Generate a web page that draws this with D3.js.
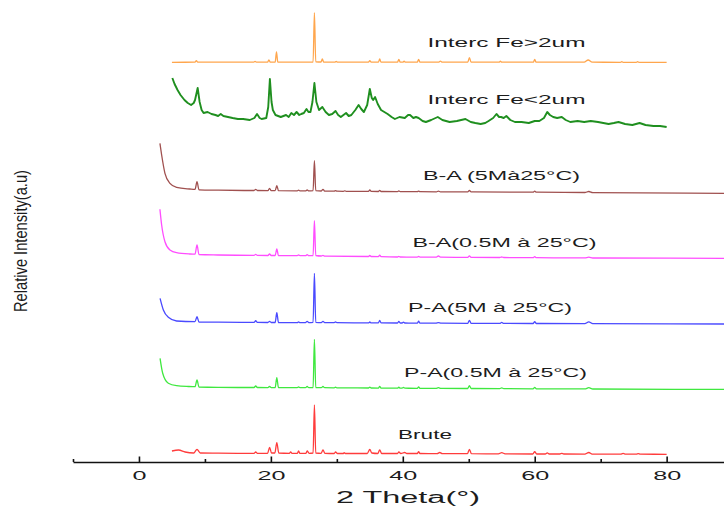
<html>
<head>
<script src="https://d3js.org/d3.v7.min.js"></script>
<style>
  body { margin: 0; background: #fff; }
  text { font-family: "Liberation Sans", Arial, sans-serif; fill: #1c1c1c; }
</style>
</head>
<body>
<script>
// XRD patterns, [2theta, intensity a.u.] (stacked, offsets included)
var brute = [[5.0,11],[6.0,12],[7.0,10],[8.3,9],[8.8,12.7],[9.3,9],[12,8.8],[17.45,8.7],[17.7,10],[17.95,8.7],[19.5,8.7],[19.8,14.7],[20.1,9],[20.6,9],[20.9,19.3],[21.2,9],
  [22.8,8.7],[23.0,10],[23.2,8.7],[24.0,8.7],[24.2,11],[24.4,8.7],[25.3,8.7],[25.5,11],[25.8,8.7],[26.4,9],[26.6,57],[26.8,9],[27.6,8.7],[27.9,12],[28.2,8.7],
  [29.6,8.5],[29.8,10],[30.1,8.5],[31,8.5],[31.1,9.3],[31.3,8.5],[34.6,8.5],[35.0,12.5],[35.3,9],[36.2,8.5],[36.5,12],[36.8,8.5],[39.2,8.5],[39.4,10],[39.7,8.5],
  [40.3,9.5],[40.6,8.5],[42.2,8.5],[42.4,10.3],[42.6,8.5],[45.2,8.3],[45.6,9.5],[46.0,8.3],[49.8,8.3],[50.1,12.7],[50.4,8.3],[54.5,8.2],[55.0,9.3],[55.5,8.2],
  [59.7,8],[60.0,10.3],[60.3,8],[61.6,8],[61.9,9.2],[62.2,8],[63.8,8],[64.1,8.7],[64.4,8],[67.6,7.9],[68.2,9.5],[68.7,7.9],[73.0,7.8],[73.4,8.6],[73.8,7.8],
  [75.4,7.8],[75.7,8.4],[76,7.8],[80,7.7]];

var pa05 = [[3.2,103.7],[3.6,88.7],[4.45,78.7],[5.7,76.3],[7.5,75.5],[8.5,75.3],[8.8,82],[9.1,75],[12,74.6],[17.45,74.5],[17.7,76],[17.95,74.5],[19.55,74.4],[19.8,75.5],
  [20.05,74.4],[20.65,74.4],[20.9,84.3],[21.15,74.3],[24.0,74.3],[24.2,75],[24.4,74.3],[25.25,74.3],[25.5,75.5],[25.75,74.3],[26.4,74.5],[26.6,122.7],[26.8,74.5],
  [27.65,74.3],[27.9,75.5],[28.15,74.3],[29.6,74.2],[29.8,74.9],[30,74.2],[34.8,74],[35.0,74.8],[35.2,74],[36.3,73.9],[36.5,75.7],[36.7,73.9],[39.2,73.8],[39.4,74.8],
  [39.6,73.8],[39.9,73.8],[40.1,74.5],[40.3,73.8],[42.2,73.7],[42.4,75.2],[42.6,73.7],[45.0,73.6],[45.4,74.3],[45.8,73.6],[49.85,73.5],[50.1,76.3],[50.35,73.5],
  [54.7,73.4],[55.0,74.2],[55.3,73.4],[59.75,73.2],[60.0,74.7],[60.25,73.2],[67.6,73.1],[68.2,74.3],[68.8,73.0],[90,72.6]];

var pa5 = [[3.2,163.7],[3.7,152],[4.45,144.7],[5.7,141],[8.5,140.3],[8.8,145.3],[9.1,140],[12,139.8],[17.45,139.6],[17.7,141.3],[17.95,139.6],[19.55,139.5],[19.8,140.7],
  [20.05,139.5],[20.65,139.5],[20.9,149.3],[21.15,139.5],[24,139.4],[24.2,140.2],[24.4,139.4],[25.25,139.4],[25.5,140.7],[25.75,139.4],[26.4,139.6],[26.6,188.7],
  [26.8,139.6],[27.65,139.4],[27.9,140.7],[28.15,139.4],[29.6,139.3],[29.8,140],[30,139.3],[34.8,139.2],[35.0,140],[35.2,139.2],[36.3,139.1],[36.5,141.7],[36.7,139.1],
  [39.2,139],[39.4,140.5],[39.6,139],[39.9,139],[40.1,139.9],[40.3,139],[42.2,138.9],[42.4,140.8],[42.6,138.9],[45.0,138.8],[45.4,139.4],[45.8,138.8],[49.85,138.7],
  [50.1,141.7],[50.35,138.7],[54.7,138.6],[55,139.6],[55.3,138.6],[59.75,138.5],[60,140.3],[60.25,138.5],[67.6,138.4],[68.2,140.2],[68.8,138.3],[90,138]];

var ba05 = [[3.18,252.7],[3.44,237],[3.94,220.3],[4.7,212],[5.7,209.3],[7.7,208],[8.5,207.8],[8.8,217],[9.1,207.5],[12,207],[17.45,206.6],[17.7,207.7],[17.95,206.6],
  [19.55,206.5],[19.8,208],[20.05,206.5],[20.65,206.5],[20.9,213],[21.15,206.4],[24,206.3],[24.2,207],[24.4,206.3],[25.25,206.3],[25.5,207.3],[25.75,206.3],
  [26.4,206.5],[26.6,241.3],[26.8,206.5],[27.65,206],[27.9,206.6],[28.15,205.8],[34.8,205.5],[35,206.5],[35.2,205.5],[36.3,205.4],[36.5,206.9],[36.7,205.4],
  [39.2,205],[39.4,205.6],[39.6,205],[42.2,204.9],[42.4,205.6],[42.6,204.9],[45.1,204.8],[45.4,206],[45.7,204.8],[49.85,204.7],[50.1,206.2],[50.35,204.7],
  [54.7,204.5],[55,205],[55.3,204.5],[59.75,204.3],[60,205.3],[60.25,204.3],[67.6,204.1],[68.2,204.8],[68.8,204],[90,203.7]];

var ba5 = [[3.18,318.7],[3.44,307],[3.94,288.7],[4.7,278.7],[5.7,274.7],[7.7,273],[8.5,272.6],[8.8,280.3],[9.1,272.2],[12,271.8],[17.45,271.5],[17.7,272.7],[17.95,271.5],
  [19.55,271.4],[19.8,273.7],[20.05,271.4],[20.65,271.4],[20.9,276.3],[21.15,271.3],[24,271.2],[24.2,271.9],[24.4,271.2],[25.25,271.1],[25.5,272],[25.75,271.1],
  [26.4,271.3],[26.6,301.3],[26.8,271.3],[27.65,271],[27.9,272.7],[28.15,270.9],[29.6,270.8],[29.8,271.4],[30,270.8],[31,270.7],[31.2,271.2],[31.4,270.7],
  [34.8,270.6],[35,272],[35.2,270.6],[36.3,270.5],[36.5,271.7],[36.7,270.5],[39.2,270.4],[39.4,271],[39.6,270.4],[42.2,270.3],[42.4,270.9],[42.6,270.3],
  [45.1,270.2],[45.4,270.9],[45.7,270.2],[49.85,270.1],[50.1,271.5],[50.35,270.1],[59.75,269.8],[60,270.8],[60.25,269.8],[67.6,269.5],[68.2,270.5],[68.8,269.4],[90,268.7]];

var feSmall = [[5.06,384],[5.4,378],[5.85,372],[6.3,367],[6.9,362],[7.4,359],[7.9,357],[8.3,359],[8.5,362],[8.9,374],[9.2,360],[9.5,352],[9.8,349],[10.4,350],[11,348],
  [11.6,347],[12.0,346],[12.4,348],[12.8,346],[13.5,345],[14.2,344],[15,343],[15.8,343],[16.8,342],[17.5,344],[17.9,348],[18.3,344],[18.6,343],[19.3,344],[19.6,355],
  [19.85,383],[20.1,360],[20.3,352],[20.7,347],[21.1,346],[21.5,345],[21.9,346],[22.3,347],[22.7,345],[23.1,349],[23.5,347],[23.9,350],[24.3,347],[24.6,348],
  [25.0,349],[25.4,353],[25.7,350],[26.0,350],[26.3,360],[26.6,379],[26.9,360],[27.3,352],[27.8,355],[28.3,350],[28.8,347],[29.3,348],[29.8,351],[30.2,347],
  [30.6,345],[31.0,347],[31.4,349],[31.8,346],[32.2,347],[32.8,352],[33.3,357],[33.7,353],[34.1,350],[34.6,357],[35.0,373],[35.3,364],[35.5,362],[35.8,365],
  [36.2,358],[36.7,352],[37.2,350],[37.7,348],[38.3,345],[38.8,343],[39.5,345],[40.3,344],[40.8,347],[41.1,347],[41.6,344],[42.0,345],[42.4,344],[43.0,341],
  [43.5,340],[44.3,342],[45.3,345],[46.0,342],[47.1,340],[48.2,341],[49.5,343],[50.3,340],[51.0,339],[51.8,338],[52.5,339],[53.0,341],[53.7,344],[54.2,348],
  [54.6,345],[54.9,345],[55.3,344],[55.7,346],[56.3,342],[57.0,340],[58.0,340],[59.1,339],[60.0,341],[60.7,341],[61.4,344],[61.9,350],[62.3,347],[62.8,345],
  [63.4,344],[64.1,345],[64.7,342],[65.4,340],[66.5,341],[67.5,340],[68.5,341],[69.6,340],[70.4,339],[71.2,338],[72.0,339],[72.7,340],[73.7,338],[74.8,337],
  [75.9,339],[76.8,337],[78.0,336],[79.0,336],[80.0,335]];

var feBig = [[5,399.7],[8.5,399.8],[8.7,401.3],[8.9,399.8],[17.4,399.8],[17.6,400.5],[17.8,399.8],[19.5,399.8],[19.7,402],[19.9,399.8],[20.65,399.8],[20.85,410],
  [21.05,399.8],[26.4,400],[26.6,449.3],[26.8,400.2],[27.6,400],[27.8,403],[28.0,400],[29.7,399.8],[29.9,400.6],[30.1,399.8],[34.8,399.8],[35,401.3],[35.2,399.8],
  [36.3,399.8],[36.5,403],[36.7,399.8],[39.2,399.8],[39.4,402.7],[39.6,399.8],[40.0,399.8],[40.2,400.8],[40.4,399.8],[42.2,399.8],[42.4,402.7],[42.6,399.8],
  [45.4,399.8],[45.7,400.8],[46,399.8],[49.85,399.8],[50.1,404.3],[50.35,399.8],[54.6,399.8],[54.8,400.8],[55,399.8],[59.8,399.8],[60,402.7],[60.2,399.8],
  [67.5,399.8],[68.1,402],[68.7,399.8],[73,399.7],[73.2,400.4],[73.4,399.7],[75.4,399.7],[75.6,400.4],[75.8,399.7],[80,399.7]];

var series = [brute, pa05, pa5, ba05, ba5, feSmall, feBig];
var names = ["Brute", "P-A(0.5M à 25°C)", "P-A(5M à 25°C)", "B-A(0.5M à 25°C)", "B-A (5Mà25°C)", "Interc Fe<2um", "Interc Fe>2um"];
var majorTicks = [0, 20, 40, 60, 80];
var minorTicks = [-10, 10, 30, 50, 70, 90];

var colores = ["#ff3c3c", "#3fe83f", "#4a4aff", "#ff4dff", "#a0504f", "#1f8f1f", "#ffa64d"];
var grosor = [1.3, 1.3, 1.3, 1.3, 1.3, 1.9, 1.3];
// label layout: left x, baseline y, stretched width
var etiquetas = [[398, 439.3, 54], [404, 377, 183], [408, 312, 164], [412.5, 247, 184], [423, 179.5, 157], [427.5, 103.7, 158], [427.5, 47.3, 158]];

var W = 724, H = 506;

var escalaX = d3.scaleLinear()
    .domain([-10, 90])
    .range([73, 732.6]);

var escalaY = d3.scaleLinear()
    .domain([0, 460])
    .range([462, 2]);

var grafica = d3.select("body")
    .append("svg")
    .attr("width", W)
    .attr("height", H);

var linea = d3.line()
    .x(d => escalaX(d[0]))
    .y(d => escalaY(d[1]))
    .curve(d3.curveMonotoneX);

var lineaRuido = d3.line()
    .x(d => escalaX(d[0]))
    .y(d => escalaY(d[1]));

grafica.selectAll("path.xrd")
    .data(series)
    .enter()
    .append("path")
    .attr("class", "xrd")
    .attr("d", d => d === feSmall ? lineaRuido(d) : linea(d))
    .attr("fill", "none")
    .attr("stroke", (d, i) => colores[i])
    .attr("stroke-width", (d, i) => grosor[i])
    .attr("stroke-linejoin", "round");

grafica.selectAll("text.nombre")
    .data(names)
    .enter()
    .append("text")
    .attr("class", "nombre")
    .attr("x", (d, i) => etiquetas[i][0])
    .attr("y", (d, i) => etiquetas[i][1])
    .attr("font-size", 12.5)
    .attr("textLength", (d, i) => etiquetas[i][2])
    .attr("lengthAdjust", "spacingAndGlyphs")
    .text(d => d);

// eje x
var ejeX = grafica.append("g")
    .attr("transform", "translate(0,462)")
    .call(d3.axisBottom(escalaX)
        .tickValues(majorTicks)
        .tickSizeInner(-5.5)
        .tickSizeOuter(0)
        .tickPadding(9));

ejeX.select(".domain").attr("stroke", "#111").attr("stroke-width", 1.7);
ejeX.selectAll(".tick line").attr("stroke", "#111").attr("stroke-width", 1.6);
ejeX.selectAll(".tick text")
    .attr("font-size", 12.5)
    .attr("fill", "#1c1c1c")
    .attr("textLength", d => String(d).length * 14)
    .attr("lengthAdjust", "spacingAndGlyphs");

var ejeMenor = grafica.append("g")
    .attr("transform", "translate(0,462)")
    .call(d3.axisBottom(escalaX)
        .tickValues(minorTicks)
        .tickSizeInner(-3)
        .tickSizeOuter(0)
        .tickFormat(""));
ejeMenor.select(".domain").remove();
ejeMenor.selectAll(".tick line").attr("stroke", "#111").attr("stroke-width", 1.6);

grafica.append("text")
    .attr("x", 336)
    .attr("y", 503.3)
    .attr("font-size", 16)
    .attr("textLength", 144)
    .attr("lengthAdjust", "spacingAndGlyphs")
    .text("2 Theta(°)");

grafica.append("text")
    .attr("transform", "translate(27,241) rotate(-90)")
    .attr("text-anchor", "middle")
    .style("font-size", "18.5px")
    .attr("textLength", 142)
    .attr("lengthAdjust", "spacingAndGlyphs")
    .text("Relative Intensity(a.u)");
</script>
</body>
</html>
